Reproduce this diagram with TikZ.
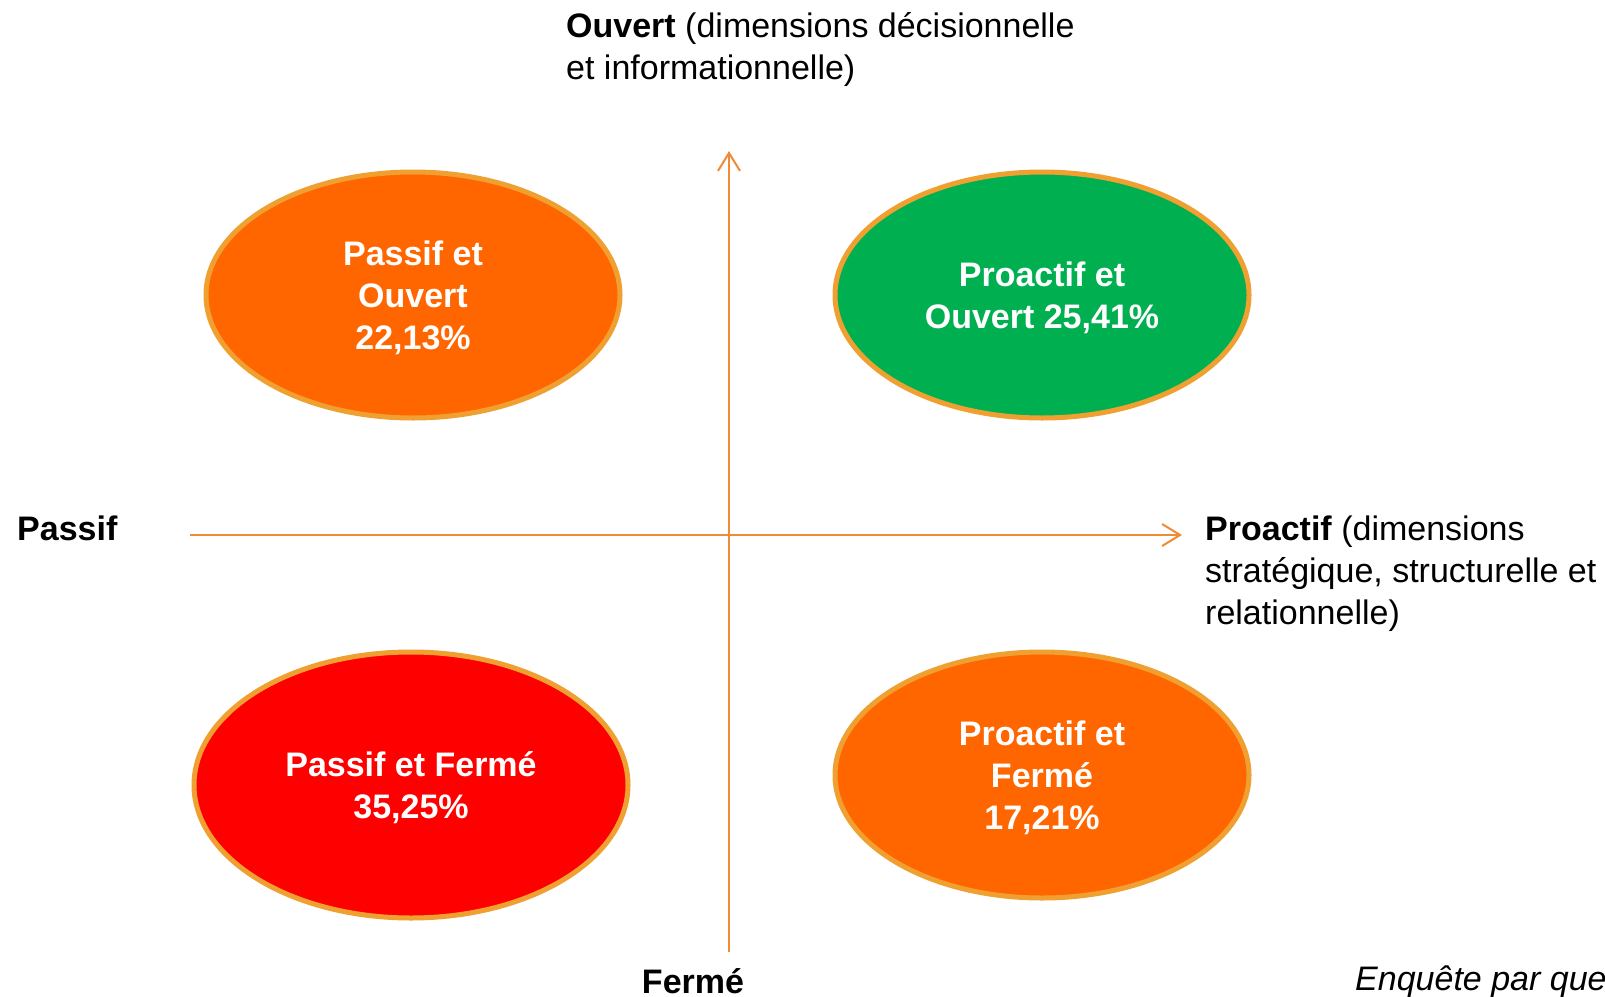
\documentclass[tikz,border=0pt]{standalone}
\usepackage{fontspec}
\setmainfont{Liberation Sans}
\usetikzlibrary{arrows.meta, positioning, shapes.geometric}

\definecolor{axeorange}{HTML}{EE8B36}
\definecolor{bordure}{HTML}{F0A030}
\definecolor{orangevif}{HTML}{FF6600}
\definecolor{vert}{HTML}{00B050}
\definecolor{rouge}{HTML}{FF0000}

\begin{document}
\begin{tikzpicture}[x=1pt, y=-1pt, font=\fontsize{34}{42}\selectfont,
  axe/.style={draw=axeorange, line width=2pt, -{Straight Barb[length=18pt, width=22pt]}},
  bulle/.style={ellipse, draw=bordure, line width=5pt, inner sep=0pt, text depth=0pt,
    minimum width=414pt, minimum height=246pt, align=center, text=white, font=\fontsize{34}{42}\selectfont\bfseries}]
\useasboundingbox (0,0) rectangle (1605,996);

% Axes
\coordinate (bas) at (729,952);
\coordinate (haut) at (729,151);
\coordinate (gauche) at (190,535);
\coordinate (droite) at (1182,535);
\draw[axe] (bas) -- (haut);
\draw[axe] (gauche) -- (droite);

% Quadrants
\node[bulle, fill=orangevif, text depth=-8pt] (po) at (413,295) {Passif et\\Ouvert\\22,13\%};
\node[bulle, fill=vert] (pro) at (1042,295) {Proactif et\\Ouvert 25,41\%};
\node[bulle, fill=rouge, minimum width=434pt, minimum height=266pt] (pf) at (411,785) {Passif et Fermé\\35,25\%};
\node[bulle, fill=orangevif] (prf) at (1042,775) {Proactif et\\Fermé\\17,21\%};

% Etiquettes des axes
\node[anchor=base west, align=left, inner sep=0pt] (ouvert) at (566,79)
  {\textbf{Ouvert} (dimensions décisionnelle\\et informationnelle)};
\node[anchor=base west, inner sep=0pt] (passif) at (17,540) {\textbf{Passif}};
\node[anchor=base west, align=left, inner sep=0pt] (proactif) at (1205,624)
  {\textbf{Proactif} (dimensions\\stratégique, structurelle et\\relationnelle)};
\node[anchor=base, inner sep=0pt] (ferme) at (693,993) {\textbf{Fermé}};

% Source
\node[anchor=base west, inner sep=0pt, font=\fontsize{34}{42}\selectfont\itshape] (source) at (1355,990) {Enquête par que};
\end{tikzpicture}
\end{document}
